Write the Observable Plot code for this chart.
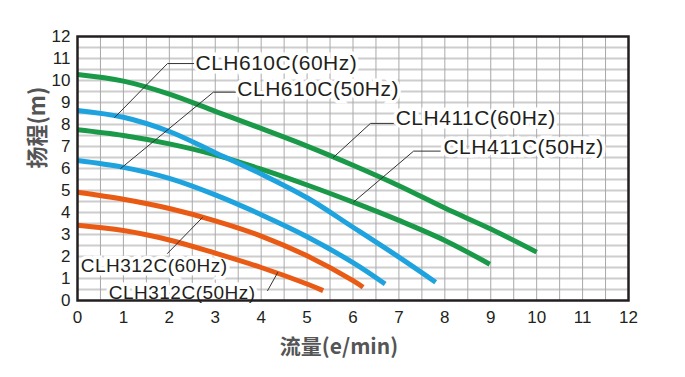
<!DOCTYPE html>
<html>
<head>
<meta charset="utf-8">
<script src="https://cdn.jsdelivr.net/npm/d3@7"></script>
<script src="https://cdn.jsdelivr.net/npm/@observablehq/plot@0.6"></script>
<style>
  html, body { margin: 0; padding: 0; background: #fff; }
  #chart { width: 685px; height: 377px; }
  .lbl text { letter-spacing: 0.5px; }
</style>
</head>
<body>
<div id="chart"></div>
<script>
// ---- data ----
const xTicks = [0,1,2,3,4,5,6,7,8,9,10,11,12];
const yTicks = [0,1,2,3,4,5,6,7,8,9,10,11,12];
const gridX = [0.5,1,1.5,2,2.5,3,3.5,4,4.5,5,5.5,6,6.5,7,7.5,8,8.5,9,9.5,10,10.5,11,11.5];
const gridY = [0.5,1,1.5,2,2.5,3,3.5,4,4.5,5,5.5,6,6.5,7,7.5,8,8.5,9,9.5,10,10.5,11,11.5];

const clh411c60Flow = [0,1,2,3,4,5,6,7,8,9,10];
const clh411c60Head = [10.27,9.97,9.38,8.6,7.82,7.02,6.15,5.22,4.2,3.25,2.2];
const clh411c50Flow = [0,1,2,3,4,5,6,7,8,8.98];
const clh411c50Head = [7.76,7.5,7.12,6.62,5.97,5.25,4.47,3.64,2.73,1.65];
const clh610c60Flow = [0,1,2,3,4,5,6,7,7.8];
const clh610c60Head = [8.64,8.33,7.68,6.72,5.75,4.67,3.33,1.97,0.83];
const clh610c50Flow = [0,1,2,3,4,5,6,6.7];
const clh610c50Head = [6.36,6.05,5.55,4.8,3.9,2.9,1.72,0.75];
const clh312c60Flow = [0,1,2,3,4,5,6,6.22];
const clh312c60Head = [4.92,4.6,4.18,3.62,2.93,2.03,0.9,0.6];
const clh312c50Flow = [0,1,2,3,4,5,5.35];
const clh312c50Head = [3.42,3.18,2.75,2.15,1.5,0.75,0.45];

const seriesNames = ["CLH411C(60Hz)","CLH411C(50Hz)","CLH610C(60Hz)","CLH610C(50Hz)","CLH312C(60Hz)","CLH312C(50Hz)"];
const seriesColors = ["#1a9a48","#1a9a48","#1fa3de","#1fa3de","#e95b14","#e95b14"];

// label text anchor positions (flow, head)
const labelX = [6.93, 7.97, 2.57, 3.48, 0.07, 0.68];
const labelY = [8.27, 6.97, 10.77, 9.59, 1.59, 0.36];
// leader polylines
const leaderPts = [
  [[6.88,8.05],[6.38,8.05],[5.57,6.5]],
  [[7.9,6.79],[7.32,6.79],[6.01,4.47]],
  [[2.53,10.77],[1.96,10.77],[0.81,8.32]],
  [[3.44,9.47],[2.96,9.47],[0.94,6.0]],
  [[1.96,2.14],[2.72,3.77]],
  [[4.14,0.45],[4.36,1.27]]
];

// ---- build tables ----
const flows = [clh411c60Flow, clh411c50Flow, clh610c60Flow, clh610c50Flow, clh312c60Flow, clh312c50Flow];
const heads = [clh411c60Head, clh411c50Head, clh610c60Head, clh610c50Head, clh312c60Head, clh312c50Head];
const curves = [];
seriesNames.forEach((name, i) => {
  flows[i].forEach((f, j) => curves.push({series: name, flow: f, head: heads[i][j], color: seriesColors[i]}));
});
const leaders = [];
seriesNames.forEach((name, i) => leaderPts[i].forEach(p => leaders.push({series: name, x: p[0], y: p[1]})));
const labels = seriesNames.map((name, i) => ({text: name, x: labelX[i], y: labelY[i]}));
const labelsBig = labels.filter(d => !d.text.startsWith("CLH312"));
const labelsSmall = labels.filter(d => d.text.startsWith("CLH312"));

const textOpts = {x: "x", y: "y", text: "text", textAnchor: "start", className: "lbl"};

const chart = Plot.plot({
  width: 685,
  height: 377,
  marginLeft: 77,
  marginRight: 57,
  marginTop: 36,
  marginBottom: 77,
  style: {fontFamily: "'Liberation Sans', Arial, sans-serif", background: "#fff"},
  x: {domain: [0, 12]},
  y: {domain: [0, 12]},
  marks: [
    Plot.ruleY(gridY, {stroke: "#cdcdcd", strokeWidth: 2}),
    Plot.ruleX(gridX, {stroke: "#a9a9a9", strokeWidth: 1}),
    // white boxes behind label texts
    Plot.text(labelsBig, {...textOpts, fontSize: 21, fill: "white", stroke: "white", strokeWidth: 7, strokeLinejoin: "miter"}),
    Plot.text(labelsSmall, {...textOpts, fontSize: 19, fill: "white", stroke: "white", strokeWidth: 7, strokeLinejoin: "miter"}),
    Plot.line(curves, {x: "flow", y: "head", z: "series", stroke: "color", strokeWidth: 5, curve: "catmull-rom", strokeLinecap: "butt"}),
    Plot.line(leaders, {x: "x", y: "y", z: "series", stroke: "#333", strokeWidth: 1}),
    Plot.text(labelsBig, {...textOpts, fontSize: 21, fill: "#231f20"}),
    Plot.text(labelsSmall, {...textOpts, fontSize: 19, fill: "#231f20"}),
    Plot.frame({stroke: "#231f20", strokeWidth: 2.5}),
    Plot.axisX(xTicks, {tickSize: 0, tickPadding: 10, fontSize: 17, label: null, color: "#231f20"}),
    Plot.axisY(yTicks, {tickSize: 0, tickPadding: 7, fontSize: 17, label: null, color: "#231f20"}),
    Plot.text(["扬程(m)"], {frameAnchor: "left", dx: -40, rotate: -90, fontSize: 22, fontWeight: "bold", fill: "#555", fontFamily: "'Noto Sans CJK SC', sans-serif"}),
    Plot.text(["流量(e/min)"], {frameAnchor: "bottom", dy: 53, dx: -14, fontSize: 21, fontWeight: "bold", fill: "#555", fontFamily: "'Noto Sans CJK SC', sans-serif"})
  ]
});
document.getElementById("chart").appendChild(chart);
</script>
</body>
</html>
